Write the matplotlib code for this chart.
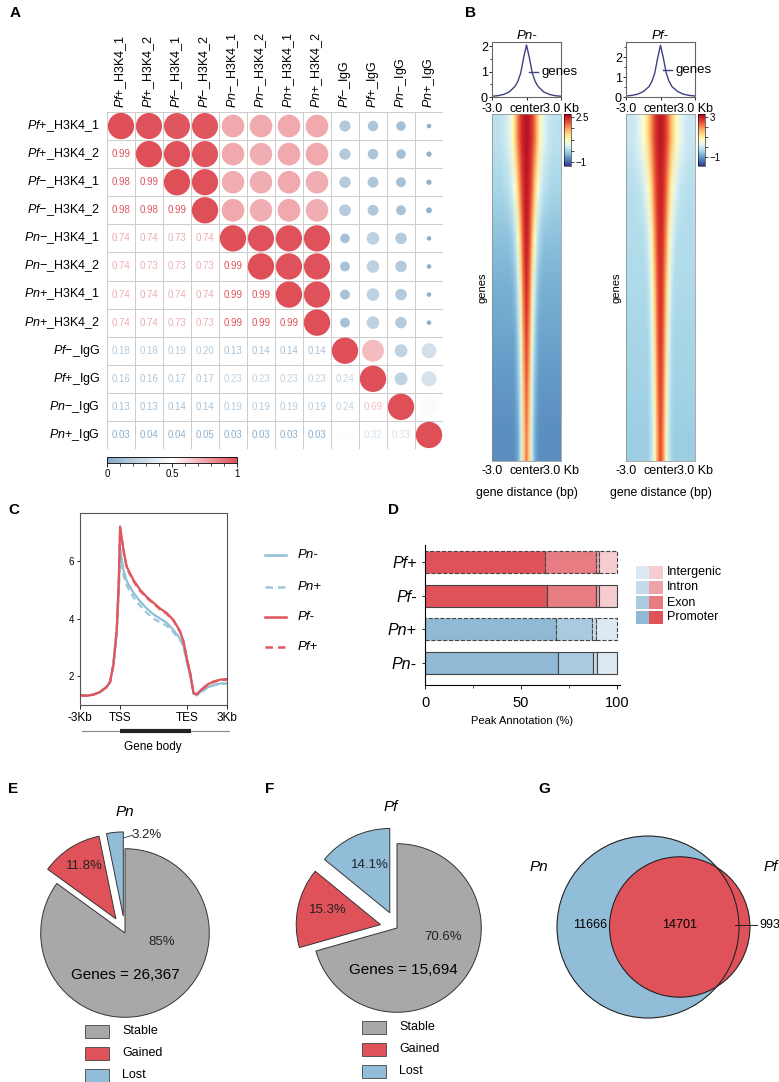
import numpy as np
import matplotlib
matplotlib.use("Agg")
import matplotlib.pyplot as plt
from matplotlib.colors import LinearSegmentedColormap, Normalize
from matplotlib.cm import ScalarMappable
from matplotlib.patches import Rectangle, Circle
from matplotlib.lines import Line2D

plt.rcParams.update({
    "font.family": ["Liberation Sans", "DejaVu Sans"],
    "mathtext.fontset": "custom", "mathtext.rm": "Liberation Sans",
    "mathtext.it": "Liberation Sans:italic", "mathtext.bf": "Liberation Sans:bold",
    "axes.linewidth": 0.8,
})

# ---------------- data ----------------
samples = [("Pf", "+", "H3K4_1"), ("Pf", "+", "H3K4_2"), ("Pf", "\u2212", "H3K4_1"), ("Pf", "\u2212", "H3K4_2"),
           ("Pn", "\u2212", "H3K4_1"), ("Pn", "\u2212", "H3K4_2"), ("Pn", "+", "H3K4_1"), ("Pn", "+", "H3K4_2"),
           ("Pf", "\u2212", "IgG"), ("Pf", "+", "IgG"), ("Pn", "\u2212", "IgG"), ("Pn", "+", "IgG")]
corr_lower = [
    [],
    [0.99],
    [0.98, 0.99],
    [0.98, 0.98, 0.99],
    [0.74, 0.74, 0.73, 0.74],
    [0.74, 0.73, 0.73, 0.73, 0.99],
    [0.74, 0.74, 0.74, 0.74, 0.99, 0.99],
    [0.74, 0.74, 0.73, 0.73, 0.99, 0.99, 0.99],
    [0.18, 0.18, 0.19, 0.20, 0.13, 0.14, 0.14, 0.14],
    [0.16, 0.16, 0.17, 0.17, 0.23, 0.23, 0.23, 0.23, 0.24],
    [0.13, 0.13, 0.14, 0.14, 0.19, 0.19, 0.19, 0.19, 0.24, 0.69],
    [0.03, 0.04, 0.04, 0.05, 0.03, 0.03, 0.03, 0.03, 0.48, 0.32, 0.33],
]
# circles of the IgG block in the upper triangle, as drawn
igg_upper = {(8, 9): 0.69, (8, 10): 0.24, (9, 10): 0.24, (8, 11): 0.32, (9, 11): 0.33, (10, 11): 0.48}

# B: mean profiles and heatmap bands (half profile from centre out to 3 kb, step 0.25 kb)
prof_x = [-3, -2.5, -2, -1.5, -1, -0.75, -0.5, -0.25, 0, 0.25, 0.5, 0.75, 1, 1.5, 2, 2.5, 3]
prof_pn = [0.03, 0.05, 0.1, 0.2, 0.42, 0.62, 0.95, 1.55, 2.05, 1.55, 0.95, 0.62, 0.42, 0.2, 0.1, 0.05, 0.03]
prof_pf = [0.05, 0.08, 0.14, 0.27, 0.52, 0.78, 1.2, 1.95, 2.6, 1.95, 1.2, 0.78, 0.52, 0.27, 0.14, 0.08, 0.05]
bands_pn = [
    [2.6, 2.5, 2.3, 1.9, 1.3, 0.8, 0.45, 0.25, 0.15, 0.1, 0.05, 0.05, 0.05],
    [2.55, 2.4, 2.0, 1.3, 0.7, 0.3, 0.1, 0.0, -0.05, -0.1, -0.1, -0.1, -0.1],
    [2.5, 2.25, 1.5, 0.7, 0.1, -0.15, -0.25, -0.3, -0.3, -0.3, -0.3, -0.3, -0.3],
    [2.4, 2.0, 1.0, 0.2, -0.25, -0.4, -0.45, -0.45, -0.45, -0.45, -0.45, -0.45, -0.45],
    [2.25, 1.7, 0.6, -0.1, -0.45, -0.55, -0.55, -0.55, -0.55, -0.55, -0.55, -0.55, -0.55],
    [2.05, 1.4, 0.35, -0.3, -0.55, -0.65, -0.65, -0.65, -0.65, -0.65, -0.65, -0.65, -0.65],
    [1.85, 1.2, 0.2, -0.45, -0.65, -0.7, -0.7, -0.7, -0.7, -0.7, -0.7, -0.7, -0.7],
]
bands_pf = [
    [3.1, 3.0, 2.7, 2.2, 1.6, 1.1, 0.7, 0.4, 0.2, 0.05, 0.0, -0.05, -0.05],
    [3.0, 2.85, 2.4, 1.6, 0.9, 0.4, 0.1, -0.05, -0.15, -0.15, -0.2, -0.2, -0.2],
    [2.9, 2.7, 2.0, 1.0, 0.3, -0.05, -0.2, -0.25, -0.25, -0.25, -0.25, -0.25, -0.25],
    [2.85, 2.55, 1.6, 0.6, 0.0, -0.25, -0.3, -0.3, -0.3, -0.3, -0.3, -0.3, -0.3],
    [2.8, 2.4, 1.3, 0.3, -0.2, -0.35, -0.35, -0.35, -0.35, -0.35, -0.35, -0.35, -0.35],
    [2.7, 2.2, 1.0, 0.1, -0.3, -0.4, -0.4, -0.4, -0.4, -0.4, -0.4, -0.4, -0.4],
    [2.6, 2.0, 0.8, 0.0, -0.35, -0.45, -0.45, -0.45, -0.45, -0.45, -0.45, -0.45, -0.45],
]

# C: metagene profiles (kb relative to TSS; TES at 5 kb)
meta_x = [-3, -2.5, -2, -1.5, -1, -0.75, -0.5, -0.25, -0.1, 0, 0.25, 0.5, 1, 1.5, 2, 2.5, 3, 3.5, 4,
          4.5, 4.75, 5, 5.25, 5.5, 5.75, 6, 6.5, 7, 7.5, 8]
meta_pn_minus = [1.34, 1.32, 1.36, 1.45, 1.63, 1.8, 2.4, 3.6, 5.0, 6.45, 5.7, 5.3, 4.9, 4.6, 4.35, 4.15,
                 4.0, 3.85, 3.6, 3.3, 3.05, 2.5, 2.0, 1.4, 1.35, 1.45, 1.6, 1.7, 1.75, 1.75]
meta_pn_plus = [1.34, 1.32, 1.36, 1.45, 1.63, 1.8, 2.4, 3.6, 4.95, 6.15, 5.5, 5.15, 4.75, 4.45, 4.2, 4.0,
                3.87, 3.75, 3.52, 3.25, 3.02, 2.5, 2.0, 1.4, 1.33, 1.42, 1.58, 1.68, 1.73, 1.74]
meta_pf_minus = [1.34, 1.32, 1.36, 1.45, 1.63, 1.8, 2.4, 3.6, 5.3, 7.2, 6.4, 5.8, 5.34, 5.0, 4.75, 4.55,
                 4.35, 4.19, 3.95, 3.55, 3.2, 2.6, 2.1, 1.4, 1.38, 1.5, 1.7, 1.82, 1.88, 1.9]
meta_pf_plus = [1.34, 1.32, 1.36, 1.45, 1.63, 1.8, 2.4, 3.6, 5.25, 7.15, 6.35, 5.75, 5.3, 4.96, 4.72, 4.52,
                4.32, 4.16, 3.92, 3.53, 3.18, 2.6, 2.1, 1.4, 1.37, 1.49, 1.68, 1.8, 1.86, 1.88]

# D: peak annotation (%)
annot_groups = ["Pf+", "Pf-", "Pn+", "Pn-"]
promoter = [62.7, 63.3, 68.2, 69.1]
exon = [26.3, 25.7, 18.6, 18.2]
intron = [1.4, 1.4, 2.2, 2.1]
intergenic = [9.6, 9.6, 11.0, 10.6]

# E/F: gene status
pie_labels = ["Lost", "Gained", "Stable"]
pn_pct = [3.2, 11.8, 85.0]
pf_pct = [14.1, 15.3, 70.6]
pn_genes, pf_genes = "26,367", "15,694"

# G: overlap
pn_only, shared, pf_only = 11666, 14701, 993

RED, BLUE, GREY = "#e0525a", "#92bdd8", "#a8a8ab"

W, H = 779, 1082
fig = plt.figure(figsize=(W / 100, H / 100), dpi=100)


def box(l, t, r, b):
    return fig.add_axes([l / W, 1 - b / H, (r - l) / W, (b - t) / H])


def ftext(x, y, s, **kw):
    fig.text(x / W, 1 - y / H, s, **kw)


for lab, x, y in [("A", 10, 13), ("B", 465, 13), ("C", 8, 510), ("D", 388, 510),
                  ("E", 8, 789), ("F", 265, 789), ("G", 538, 789)]:
    ftext(x, y, lab, fontsize=11, fontweight="bold", va="center", ha="left")

# ---------------- A: correlation matrix ----------------
cmapA = LinearSegmentedColormap.from_list("corr", ["#86aac8", "#ffffff", "#df4f58"])
n = len(samples)
M = np.eye(n)
for i, row in enumerate(corr_lower):
    for j, v in enumerate(row):
        M[i, j] = M[j, i] = v
for (i, j), v in igg_upper.items():
    M[i, j] = v

axA = box(107, 112, 443, 449)
axA.set_xlim(-0.5, n - 0.5)
axA.set_ylim(n - 0.5, -0.5)
axA.axis("off")
for k in range(n + 1):
    axA.plot([-0.5, n - 0.5], [k - 0.5, k - 0.5], color="#cccccc", lw=0.7, zorder=1)
    axA.plot([k - 0.5, k - 0.5], [-0.5, n - 0.5], color="#cccccc", lw=0.7, zorder=1)
ii, jj = np.triu_indices(n)
vals = M[ii, jj]
axA.scatter(jj, ii, s=360 * np.abs(vals), c=vals, cmap=cmapA, vmin=0, vmax=1, linewidths=0, zorder=3)
for i in range(n):
    for j in range(i):
        axA.text(j, i, f"{M[i, j]:.2f}", ha="center", va="center", fontsize=7,
                 color=cmapA(M[i, j]), zorder=3)
labels = [f"$\\mathit{{{sp}}}${sg}_{sx}" for sp, sg, sx in samples]
for k, lab in enumerate(labels):
    axA.text(-0.75, k, lab, ha="right", va="center", fontsize=9, clip_on=False)
    axA.text(k, -0.65, lab, ha="center", va="bottom", rotation=90, fontsize=9, clip_on=False)

caxA = box(107, 457, 237, 463)
cb = fig.colorbar(ScalarMappable(norm=Normalize(0, 1), cmap=cmapA), cax=caxA,
                  orientation="horizontal", ticks=[0, 0.5, 1])
cb.ax.set_xticklabels(["0", "0.5", "1"])
cb.ax.set_xticks(np.arange(0, 1.01, 0.1), minor=True)
cb.ax.tick_params(labelsize=7, length=3, width=0.6, pad=1)
cb.ax.tick_params(which="minor", length=2, width=0.5)
cb.outline.set_linewidth(0.6)

# ---------------- B: profiles + heatmaps ----------------
for name, left, py, bands, vlim, ptop, cbt, lg_y in [
        ("Pn-", 492, prof_pn, bands_pn, (-1.3, 2.75), 2.17, [2.5, -1], 0.46),
        ("Pf-", 626, prof_pf, bands_pf, (-1.9, 3.35), 2.76, [3, -1], 0.49)]:
    axp = box(left, 42, left + 69, 97)
    axp.plot(prof_x, py, color="#3f4280", lw=1)
    axp.set_xlim(-3, 3)
    axp.set_ylim(0, ptop)
    axp.set_yticks([0, 1, 2])
    axp.set_yticks(np.arange(0, ptop, 0.5), minor=True)
    axp.set_xticks([-3, 0, 3], ["-3.0", "center", "3.0 Kb"])
    axp.tick_params(labelsize=9, length=2, width=0.6, pad=1)
    axp.tick_params(axis="x", pad=2)
    axp.tick_params(which="minor", length=1.5, width=0.5)
    axp.set_title(name, style="italic", fontsize=9.5, pad=2)
    axp.plot([0.53, 0.67], [lg_y, lg_y], color="#3f4280", lw=1, transform=axp.transAxes)
    axp.text(0.72, lg_y, "genes", fontsize=9.5, va="center", transform=axp.transAxes)
    for s in axp.spines.values():
        s.set_color("#666666")

    img = np.array([b[::-1] + b[1:] for b in bands])
    axh = box(left, 114, left + 69, 461)
    im = axh.imshow(img, cmap="RdYlBu_r", vmin=vlim[0], vmax=vlim[1], aspect="auto",
                    extent=(-3, 3, 0, 1), interpolation="bilinear")
    axh.set_yticks([])
    axh.set_xticks([-3, 0, 3], ["-3.0", "center", "3.0 Kb"])
    axh.tick_params(labelsize=9, length=0, pad=3)
    axh.set_ylabel("genes", fontsize=8, labelpad=3)
    axh.set_xlabel("gene distance (bp)", fontsize=8.8, labelpad=7)
    for s in axh.spines.values():
        s.set_color("#888888")
        s.set_linewidth(0.5)
    cax = box(left + 72, 114, left + 79, 166)
    c = fig.colorbar(im, cax=cax, ticks=cbt)
    c.ax.set_yticklabels([f"{t:g}".replace("-", "\u2212") for t in cbt])
    c.ax.set_yticks(np.linspace(cbt[1], cbt[0], 5), minor=True)
    c.ax.tick_params(labelsize=7, length=2.5, width=0.5, pad=1)
    c.ax.tick_params(which="minor", length=2, width=0.5)
    c.outline.set_linewidth(0.4)

# ---------------- C: metagene ----------------
axC = box(80, 513, 227, 705)
lc_pn, lc_pn2 = "#8fbfd3", "#9cc6da"
axC.plot(meta_x, meta_pn_minus, color=lc_pn, lw=1.6)
axC.plot(meta_x, meta_pn_plus, color=lc_pn2, lw=1.6, ls=(0, (3, 2)))
axC.plot(meta_x, meta_pf_minus, color=RED, lw=1.6)
axC.plot(meta_x, meta_pf_plus, color="#e25863", lw=1.6, ls=(0, (3, 2)))
axC.set_xlim(-3, 8)
axC.set_ylim(1.0, 7.67)
axC.set_xticks([-3, 0, 5, 8], ["-3Kb", "TSS", "TES", "3Kb"])
axC.set_yticks([2, 4, 6])
axC.tick_params(axis="x", labelsize=8.5, length=3, width=0.6, pad=2)
axC.tick_params(axis="y", labelsize=7, length=2.5, width=0.6, pad=2)
for s in axC.spines.values():
    s.set_color("#555555")

axG = box(80, 722, 230, 740)
axG.axis("off")
axG.set_xlim(-3, 8)
axG.set_ylim(0, 1)
axG.plot([-2.85, 8.1], [0.5, 0.5], color="#888888", lw=0.8)
axG.plot([-0.08, 5.17], [0.5, 0.5], color="#222222", lw=3, solid_capstyle="butt")
ftext(153, 747, "Gene body", fontsize=8.5, ha="center", va="center")

for y, lab, col, ls in [(555, "Pn-", lc_pn, "-"), (587, "Pn+", lc_pn2, (0, (3, 2))),
                        (617, "Pf-", RED, "-"), (647, "Pf+", "#e25863", (0, (3, 2)))]:
    fig.add_artist(Line2D([265 / W, 286 / W], [1 - y / H] * 2, color=col, lw=1.8, ls=ls))
    ftext(298, y, lab, fontsize=9.5, style="italic", va="center")

# ---------------- D: peak annotation ----------------
axD = box(425, 545, 620, 685)
ypos = np.arange(len(annot_groups))[::-1]
blues = ["#8fb9d4", "#a9cbe0", "#c3dbea", "#dde9f2"]
reds = ["#e0525a", "#e87c83", "#efa3a8", "#f5cdd1"]
parts = [promoter, exon, intron, intergenic]
left = np.zeros(len(annot_groups))
for k, part in enumerate(parts):
    for g, grp in enumerate(annot_groups):
        col = reds[k] if grp.startswith("Pf") else blues[k]
        ls = "--" if grp.endswith("+") else "-"
        axD.barh(ypos[g], part[g], left=left[g], height=0.65, color=col, edgecolor="#444444",
                 lw=0.8, ls=ls)
    left += np.array(part)
axD.set_xlim(0, 101.5)
axD.set_ylim(-0.65, 3.5)
axD.set_yticks(ypos, annot_groups, fontsize=11.5, style="italic")
axD.set_xticks([0, 50, 100])
axD.set_xticks([25, 75], minor=True)
axD.tick_params(axis="x", labelsize=10.5, length=3, width=0.6, pad=5)
axD.tick_params(axis="x", which="minor", length=2, width=0.5)
axD.tick_params(axis="y", length=2, width=0.6, pad=4)
for s in ["top", "right"]:
    axD.spines[s].set_visible(False)
ftext(522, 721, "Peak Annotation (%)", fontsize=8, ha="center", va="center")
for k, lab in enumerate(["Intergenic", "Intron", "Exon", "Promoter"]):
    y0 = 566 + k * 15
    idx = 3 - k
    fig.add_artist(Rectangle((636 / W, 1 - (y0 + 13) / H), 13.3 / W, 13 / H, color=blues[idx], lw=0))
    fig.add_artist(Rectangle((649.3 / W, 1 - (y0 + 13) / H), 13.3 / W, 13 / H, color=reds[idx], lw=0))
    ftext(667, y0 + 6.5, lab, fontsize=9, va="center")

# ---------------- E/F: pies ----------------
for cx, cy, pct, title, genes, lab_pos, lg_x, lg_y in [
        (125, 933, pn_pct, "Pn", pn_genes, [(0.26, 1.16), (-0.48, 0.79), (0.43, -0.11)], 85, 1031),
        (397, 928, pf_pct, "Pf", pf_genes, [(-0.32, 0.75), (-0.82, 0.21), (0.55, -0.11)], 362, 1027)]:
    ax = box(cx - 118, cy - 118, cx + 118, cy + 118)
    ax.pie(pct, explode=[0.2, 0.2, 0], startangle=90, counterclock=True, colors=[BLUE, RED, GREY],
           wedgeprops=dict(edgecolor="#333333", lw=0.7))
    ax.set_xlim(-1.4, 1.4)
    ax.set_ylim(-1.4, 1.4)
    ax.set_aspect("equal")
    ax.axis("off")
    for (x, y), p in zip(lab_pos, pct):
        s = f"{p:g}%"
        ax.text(x, y, s, ha="center", va="center", fontsize=9.5, color="#222222")
    if title == "Pn":
        ax.plot([-0.01, 0.09], [1.13, 1.16], color="#333333", lw=0.6)
    ax.text(0.0 if title == "Pn" else 0.07, -0.5, f"Genes = {genes}", ha="center", va="center",
            fontsize=11)
    ftext(cx if title == "Pn" else cx - 6, cy - 121, title, style="italic", fontsize=11,
          ha="center", va="center")
    for k, (lab, col) in enumerate(zip(["Stable", "Gained", "Lost"], [GREY, RED, BLUE])):
        yy = lg_y + k * 22
        fig.add_artist(Rectangle((lg_x / W, 1 - (yy + 6.5) / H), 24 / W, 13 / H, facecolor=col,
                                 edgecolor="#444444", lw=0.6))
        ftext(lg_x + 37, yy, lab, fontsize=9, va="center")

# ---------------- G: Venn ----------------
axV = box(520, 780, 779, 1082)
axV.set_xlim(520, 779)
axV.set_ylim(1082, 780)
axV.axis("off")
r1 = 91.0
r2 = r1 * np.sqrt((shared + pf_only) / (pn_only + shared))
target = shared / (pn_only + shared) * np.pi * r1 ** 2


def lens(d):
    a1 = np.arccos((d * d + r1 * r1 - r2 * r2) / (2 * d * r1))
    a2 = np.arccos((d * d + r2 * r2 - r1 * r1) / (2 * d * r2))
    k = np.sqrt((-d + r1 + r2) * (d + r1 - r2) * (d - r1 + r2) * (d + r1 + r2))
    return r1 * r1 * a1 + r2 * r2 * a2 - 0.5 * k


lo, hi = r1 - r2 + 1e-6, r1 + r2 - 1e-6
for _ in range(60):
    mid = 0.5 * (lo + hi)
    if lens(mid) > target:
        lo = mid
    else:
        hi = mid
d = 0.5 * (lo + hi)
c1 = (648, 927)
c2 = (648 + d, 927)
axV.add_patch(Circle(c1, r1, facecolor=BLUE, edgecolor="none"))
axV.add_patch(Circle(c2, r2, facecolor=RED, edgecolor="none"))
axV.add_patch(Circle(c1, r1, fill=False, edgecolor="#222222", lw=0.8))
axV.add_patch(Circle(c2, r2, fill=False, edgecolor="#222222", lw=0.8))
axV.text(590, 925, f"{pn_only}", ha="center", va="center", fontsize=9)
axV.text(c2[0], 925, f"{shared}", ha="center", va="center", fontsize=9)
axV.plot([735, 757], [925, 925], color="#222222", lw=0.7)
axV.text(759, 925, f"{pf_only}", ha="left", va="center", fontsize=9, clip_on=False)
axV.text(539, 867, "Pn", style="italic", ha="center", va="center", fontsize=11)
axV.text(764, 867, "Pf", style="italic", ha="left", va="center", fontsize=11, clip_on=False)

fig.savefig("out.png", dpi=100)
